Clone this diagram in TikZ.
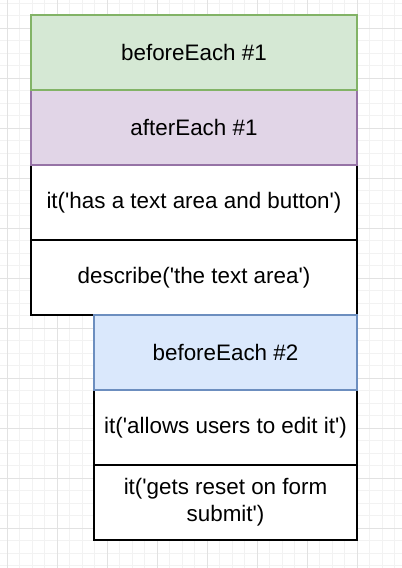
\documentclass[tikz,border=0pt]{standalone}
\usepackage{fontspec}
\setmainfont{Liberation Sans}[Ligatures=TeXOff]
\definecolor{gfill}{HTML}{D5E8D4}\definecolor{gline}{HTML}{82B366}
\definecolor{pfill}{HTML}{E1D5E7}\definecolor{pline}{HTML}{9673A6}
\definecolor{bfill}{HTML}{DAE8FC}\definecolor{bline}{HTML}{6C8EBF}
\definecolor{gridminor}{HTML}{F2F2F2}\definecolor{gridmajor}{HTML}{E2E2E2}
\begin{document}
\begin{tikzpicture}[x=0.75pt,y=-0.75pt,
  box/.style={draw=black,fill=white,line width=1.5pt,minimum height=75*0.75pt,inner sep=0pt,align=center,
    font=\fontsize{16.8pt}{20.5pt}\selectfont},
  wide/.style={minimum width=326*0.75pt},
  narrow/.style={minimum width=263*0.75pt},
  green/.style={box,fill=gfill,draw=gline},
  purple/.style={box,fill=pfill,draw=pline},
  blue/.style={box,fill=bfill,draw=bline}]
\useasboundingbox (0,0) rectangle (402,568);
\fill[white] (0,0) rectangle (402,568);
\foreach \i in {0,...,32} {
  \draw[gridminor,line width=0.75pt] ({7.3+12.5*\i},0) -- ({7.3+12.5*\i},568);
}
\foreach \j in {0,...,45} {
  \draw[gridminor,line width=0.75pt] (0,{3.3+12.5*\j}) -- (402,{3.3+12.5*\j});
}
\foreach \i in {0,...,8} {
  \draw[gridmajor,line width=0.75pt] ({7.3+50*\i},0) -- ({7.3+50*\i},568);
}
\foreach \j in {0,...,11} {
  \draw[gridmajor,line width=0.75pt] (0,{28.3+50*\j}) -- (402,{28.3+50*\j});
}
\node[box,wide] (d1) at (194,277.5) {describe('the text area')};
\node[box,wide] (it1) at (194,202.5) {it('has a text area and button')};
\node[purple,wide] (ae1) at (194,127.5) {afterEach \#1};
\node[green,wide] (be1) at (194,52.5) {beforeEach \#1};
\node[box,narrow] (it3) at (225.5,502.5) {it('gets reset on form\\submit')};
\node[box,narrow] (it2) at (225.5,427.5) {it('allows users to edit it')};
\node[blue,narrow] (be2) at (225.5,352.5) {beforeEach \#2};
\end{tikzpicture}
\end{document}
